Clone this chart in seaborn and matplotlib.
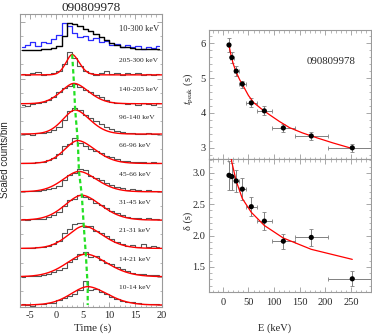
import numpy as np
import pandas as pd
import matplotlib
matplotlib.use("Agg")
import matplotlib.pyplot as plt
import seaborn as sns
from matplotlib.ticker import MultipleLocator, NullFormatter

# ---------------- data ----------------
burst_id = "090809978"
bands = ["10-14 keV", "14-21 keV", "21-31 keV", "31-45 keV", "45-66 keV",
         "66-96 keV", "96-140 keV", "140-205 keV", "205-300 keV"]
total_band = "10-300 keV"

# right panels
e_center = [12, 17.5, 26, 38, 55.5, 81, 118, 172.5, 252.5]
e_halfwidth = [2, 3.5, 5, 7, 10.5, 15, 22, 32.5, 47.5]
tpeak = [5.95, 5.59, 5.20, 4.83, 4.29, 4.06, 3.57, 3.34, 3.00]
tpeak_err = [0.20, 0.17, 0.14, 0.10, 0.13, 0.13, 0.11, 0.12, 0.12]
delta = [2.96, 2.94, 2.87, 2.74, 2.46, 2.23, 1.91, 1.97, 1.31]
delta_err = [0.23, 0.22, 0.17, 0.17, 0.15, 0.14, 0.12, 0.13, 0.12]
tfit_e = [12, 15, 20, 26, 33, 40, 50, 60, 75, 90, 110, 130, 155, 185, 215, 252.5]
tfit_v = [5.95, 5.72, 5.42, 5.17, 4.95, 4.77, 4.50, 4.30, 4.12, 3.96, 3.76, 3.58, 3.43, 3.28, 3.14, 2.98]
delta_fit = [3.49, 3.17, 2.87, 2.59, 2.37, 2.16, 1.96, 1.78, 1.62]

# left panel: light curves (bin centres, s) and scaled counts per band
hist_t = np.arange(-6.5, 20.0, 1.0)
total_black = [0.0, 0.0, 0.01, 0.01, 0.03, 0.05, 0.08, 0.15, 0.5, 0.95, 0.93, 0.85, 0.76, 0.67,
               0.57, 0.46, 0.36, 0.26, 0.19, 0.13, 0.1, 0.08, 0.06, 0.05, 0.04, 0.04, 0.04]
total_blue = [0.12, 0.2, 0.28, 0.15, 0.3, 0.25, 0.4, 0.55, 0.95, 0.85, 0.62, 0.45, 0.52, 0.35,
              0.42, 0.28, 0.33, 0.2, 0.22, 0.12, 0.18, 0.1, 0.14, 0.05, 0.12, 0.07, 0.15]
hist_10_14 = [0.05, 0.0, -0.03, 0.03, 0.04, 0.08, 0.06, 0.18, 0.25, 0.33, 0.4, 0.52, 0.84, 0.52,
              0.58, 0.45, 0.4, 0.3, 0.22, 0.15, 0.1, 0.12, 0.06, 0.05, 0.03, 0.04, 0.03]
hist_14_21 = [0.0, 0.03, 0.04, 0.02, 0.06, 0.1, 0.16, 0.24, 0.32, 0.52, 0.64, 0.8, 0.86, 0.7,
              0.74, 0.6, 0.5, 0.44, 0.36, 0.28, 0.2, 0.12, 0.09, 0.1, 0.07, 0.05, 0.06]
hist_21_31 = [0.02, 0.03, 0.02, 0.04, 0.06, 0.08, 0.14, 0.25, 0.55, 0.7, 0.85, 0.91, 0.74, 0.79,
              0.62, 0.55, 0.44, 0.32, 0.23, 0.15, 0.09, 0.11, 0.06, 0.14, 0.05, 0.08, 0.05]
hist_31_45 = [0.03, 0.02, 0.03, 0.04, 0.05, 0.1, 0.18, 0.3, 0.5, 0.72, 0.76, 0.88, 0.8, 0.74,
              0.62, 0.52, 0.42, 0.33, 0.26, 0.17, 0.12, 0.09, 0.06, 0.04, 0.07, 0.03, 0.05]
hist_45_66 = [0.03, 0.02, 0.04, 0.03, 0.06, 0.09, 0.12, 0.2, 0.42, 0.6, 0.68, 0.79, 0.76, 0.54,
              0.48, 0.42, 0.3, 0.24, 0.18, 0.12, 0.08, 0.09, 0.05, 0.04, 0.06, 0.03, 0.04]
hist_66_96 = [0.01, 0.0, 0.03, 0.05, 0.06, 0.12, 0.18, 0.32, 0.62, 0.68, 0.89, 0.72, 0.62, 0.5,
              0.45, 0.36, 0.27, 0.22, 0.15, 0.1, 0.08, 0.06, 0.04, 0.05, 0.03, 0.04, 0.02]
hist_96_140 = [0.03, 0.05, 0.02, 0.06, 0.08, 0.12, 0.2, 0.3, 0.55, 0.85, 0.96, 0.88, 0.72, 0.6,
               0.5, 0.38, 0.3, 0.22, 0.15, 0.12, 0.09, 0.07, 0.05, 0.04, 0.06, 0.03, 0.05]
hist_140_205 = [0.08, 0.04, 0.1, 0.15, 0.16, 0.24, 0.36, 0.51, 0.67, 0.75, 0.81, 0.69, 0.6, 0.51,
                0.43, 0.34, 0.24, 0.17, 0.15, 0.13, 0.1, 0.14, 0.08, 0.13, 0.1, 0.08, 0.13]
hist_205_300 = [0.17, 0.12, 0.2, 0.24, 0.14, 0.16, 0.18, 0.25, 0.5, 0.93, 0.72, 0.45, 0.25, 0.2,
                0.14, 0.2, 0.25, 0.15, 0.2, 0.13, 0.18, 0.15, 0.19, 0.12, 0.16, 0.14, 0.17]
band_hists = [hist_10_14, hist_14_21, hist_21_31, hist_31_45, hist_45_66,
              hist_66_96, hist_96_140, hist_140_205, hist_205_300]

# fitted pulse parameters per band (peak time = tpeak)
peak_fit = [0.65, 0.80, 0.79, 0.88, 0.72, 0.81, 0.89, 0.83, 0.85]
bg_fit = [0.0, 0.0, 0.0, 0.0, 0.0, 0.0, 0.04, 0.11, 0.13]
rise_hw = [3.8, 4.3, 3.5, 3.8, 3.6, 3.0, 2.8, 2.9, 1.4]
decay_hw = [4.4, 4.8, 4.2, 4.3, 4.0, 3.9, 3.3, 3.3, 1.6]


def pulse(t, tp, hw_r, hw_d, p=1.8):
    hw = np.where(t < tp, hw_r, hw_d)
    return np.exp(-np.log(2) * (np.abs(t - tp) / hw) ** p)


# ---------------- style ----------------
sns.set_theme(style="ticks")
plt.rcParams["font.family"] = ["Liberation Serif", "DejaVu Serif"]
plt.rcParams["mathtext.fontset"] = "stix"
plt.rcParams["axes.unicode_minus"] = False
plt.rcParams["xtick.direction"] = "in"
plt.rcParams["ytick.direction"] = "in"
FRAME = "#9a9a9a"
W, H = 372, 336

fig = plt.figure(figsize=(W / 100, H / 100), dpi=100)
axL = fig.add_axes([20 / W, 1 - 307 / H, 142 / W, 293 / H])
axT = fig.add_axes([209 / W, 1 - 159 / H, 162 / W, 129 / H])
axB = fig.add_axes([209 / W, 1 - 292 / H, 162 / W, 133 / H], sharex=axT)


def frame(ax):
    for s in ax.spines.values():
        s.set_color(FRAME)
        s.set_linewidth(0.8)
    ax.tick_params(which="both", direction="in", top=True, right=True, color=FRAME,
                   labelsize=7.5, pad=2.5)
    ax.tick_params(which="major", length=3.5, width=0.6)
    ax.tick_params(which="minor", length=1.8, width=0.5)


# ---------------- left panel ----------------
t_fine = np.linspace(-7, 20.2, 500)
for i, name in enumerate(bands):
    off = float(i)
    sns.lineplot(x=hist_t, y=off + np.array(band_hists[i]), ax=axL, drawstyle="steps-mid",
                 color="#555555", lw=0.8, estimator=None)
    model = off + bg_fit[i] + (peak_fit[i] - bg_fit[i]) * pulse(t_fine, tpeak[i], rise_hw[i], decay_hw[i])
    sns.lineplot(x=t_fine, y=model, ax=axL, color="red", lw=1.0, estimator=None)
    axL.text(11.9, off + 0.62, name, fontsize=5.4, va="center", ha="left")

off_tot = float(len(bands))
sns.lineplot(x=hist_t, y=off_tot + np.array(total_blue), ax=axL, drawstyle="steps-mid",
             color="#2a2aff", lw=0.9, estimator=None)
sns.lineplot(x=hist_t, y=off_tot + np.array(total_black), ax=axL, drawstyle="steps-mid",
             color="black", lw=1.0, estimator=None)
axL.text(11.9, off_tot + 0.76, total_band, fontsize=6.0, va="center", ha="left")

# green dashed line through the pulse peaks
gx, gy = [], []
for i in range(len(bands) - 1, -1, -1):
    gx.append(tpeak[i]); gy.append(i + peak_fit[i])
gx.append(tpeak[0]); gy.append(0.0)
sns.lineplot(x=gx, y=gy, ax=axL, sort=False, color="#22e022", lw=1.6,
             linestyle=(0, (2.0, 1.3)), estimator=None)

axL.set_xlim(-6.9, 20.05)
axL.set_ylim(-0.07, 10.28)
axL.xaxis.set_major_locator(MultipleLocator(5))
axL.xaxis.set_minor_locator(MultipleLocator(1))
axL.yaxis.set_major_locator(MultipleLocator(1))
axL.yaxis.set_minor_locator(MultipleLocator(0.5))
axL.yaxis.set_major_formatter(NullFormatter())
axL.set_xlabel(""); axL.set_ylabel("")
frame(axL)
axL.tick_params(axis="x", labelsize=7.5, pad=3)
axL.set_title(burst_id, fontsize=9.5, pad=2.5)

# ---------------- right panels ----------------
axT.errorbar(e_center, tpeak, xerr=e_halfwidth, yerr=tpeak_err, fmt="none",
             ecolor="#808080", elinewidth=0.7, capsize=1.5, capthick=0.6, zorder=2)
sns.lineplot(x=tfit_e, y=tfit_v, ax=axT, color="red", lw=0.9, estimator=None, zorder=3)
sns.scatterplot(x=e_center, y=tpeak, ax=axT, color="black", s=14, edgecolor="none", zorder=4)

axB.errorbar(e_center, delta, xerr=e_halfwidth, yerr=delta_err, fmt="none",
             ecolor="#808080", elinewidth=0.7, capsize=1.5, capthick=0.6, zorder=2)
sns.lineplot(x=e_center, y=delta_fit, ax=axB, color="red", lw=0.9, estimator=None, zorder=3)
sns.scatterplot(x=e_center, y=delta, ax=axB, color="black", s=14, edgecolor="none", zorder=4)

axT.set_xlim(-27, 289)
axT.set_ylim(2.68, 6.38)
axB.set_ylim(1.10, 3.22)
axT.xaxis.set_major_locator(MultipleLocator(50))
axT.xaxis.set_minor_locator(MultipleLocator(10))
axT.yaxis.set_major_locator(MultipleLocator(1))
axT.yaxis.set_minor_locator(MultipleLocator(0.2))
axB.yaxis.set_major_locator(MultipleLocator(0.5))
axB.yaxis.set_minor_locator(MultipleLocator(0.1))
axB.yaxis.set_major_formatter(matplotlib.ticker.FormatStrFormatter("%.1f"))
for ax in (axT, axB):
    frame(ax)
    ax.set_xlabel(""); ax.set_ylabel("")
axT.tick_params(axis="x", labelbottom=False)
axB.tick_params(axis="x", pad=4)
fig.text(331 / W, 1 - 62 / H, burst_id, fontsize=7.8, ha="center", va="center")

# axis labels
fig.text(5 / W, 1 - 160 / H, "Scaled counts/bin", rotation=90, ha="center", va="center",
         fontsize=7, family=["Liberation Sans", "DejaVu Sans"])
fig.text(93 / W, 1 - 328 / H, "Time (s)", ha="center", va="center", fontsize=8)
fig.text(188 / W, 1 - 89 / H, r"$t_{\rm peak}$ (s)", rotation=90, ha="center", va="center", fontsize=7.5)
fig.text(188 / W, 1 - 221 / H, "δ (s)", rotation=90, ha="center", va="center", fontsize=7.5)
fig.text(275 / W, 1 - 328 / H, "E (keV)", ha="center", va="center", fontsize=7.5)

fig.savefig("out.png", dpi=100)
